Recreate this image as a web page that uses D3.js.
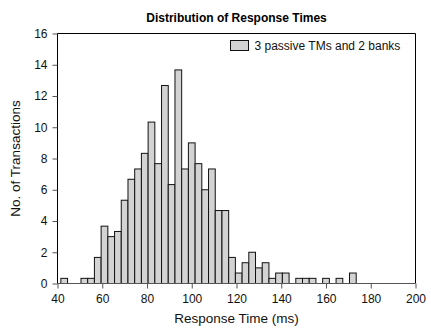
<!DOCTYPE html>
<html>
<head>
<meta charset="utf-8">
<script src="https://cdn.jsdelivr.net/npm/d3@7.9.0/dist/d3.min.js"></script>
<style>
  body { margin: 0; background: #fff; }
  svg { display: block; font-family: "Liberation Sans", Arial, sans-serif; }
</style>
</head>
<body>
<svg id="chart" width="431" height="329"></svg>
<script>
// left edge of each 3 ms bin
const binStarts = [
  41.5, 44.5, 47.5, 50.5, 53.5, 56.5, 59.5, 62.5, 65.5, 68.5, 71.5,
  74.5, 77.5, 80.5, 83.5, 86.5, 89.5, 92.5, 95.5, 98.5, 101.5, 104.5,
  107.5, 110.5, 113.5, 116.5, 119.5, 122.5, 125.5, 128.5, 131.5, 134.5,
  137.5, 140.5, 143.5, 146.5, 149.5, 152.5, 155.5, 158.5, 161.5, 164.5,
  167.5, 170.5,
];
const binWidth = 3;

const transactions = [
  0.33, 0, 0, 0.33, 0.33, 1.67, 3.67, 3, 3.33, 5.33, 6.67,
  7.33, 8.33, 10.33, 7.67, 12.67, 6.33, 13.67, 7.33, 9, 7.67, 6,
  7.33, 4.67, 4.67, 1.67, 0.67, 1.33, 2, 1, 1.33, 0.33,
  0.67, 0.67, 0, 0.33, 0.33, 0.33, 0, 0.33, 0, 0.33,
  0, 0.67,
];

const xTicks = [40, 60, 80, 100, 120, 140, 160, 180, 200];
const yTicks = [0, 2, 4, 6, 8, 10, 12, 14, 16];

const seriesLabel = '3 passive TMs and 2 banks';

const margin = { left: 57.5, right: 15.5, top: 33.5, bottom: 45.5 };
const width = 431;
const height = 329;

const x = d3.scaleLinear()
  .domain([40, 200])
  .range([margin.left, width - margin.right]);

const y = d3.scaleLinear()
  .domain([0, 16])
  .range([height - margin.bottom, margin.top]);

const svg = d3.select('#chart');

const bins = binStarts.map((start, i) => ({ start, value: transactions[i] }));

// bars
svg.append('g')
  .selectAll('rect')
  .data(bins)
  .join('rect')
  .attr('x', (d) => x(d.start))
  .attr('y', (d) => y(d.value))
  .attr('width', (d) => x(d.start + binWidth) - x(d.start))
  .attr('height', (d) => y(0) - y(d.value))
  .attr('fill', '#d3d3d3')
  .attr('stroke', '#111')
  .attr('stroke-width', 1);

// frame
svg.append('path')
  .attr('d', `M${x(40)},${y(0)}V${y(16)}H${x(200)}V${y(0)}`)
  .attr('fill', 'none')
  .attr('stroke', '#000');

svg.append('line')
  .attr('x1', x(40))
  .attr('x2', x(200))
  .attr('y1', y(0))
  .attr('y2', y(0))
  .attr('stroke', '#555');

// axes
const xAxis = svg.append('g')
  .attr('transform', `translate(0,${y(0)})`)
  .call(d3.axisBottom(x).tickValues(xTicks).tickSize(5).tickPadding(6));

const yAxis = svg.append('g')
  .attr('transform', `translate(${x(40)},0)`)
  .call(d3.axisLeft(y).tickValues(yTicks).tickSize(5).tickPadding(5));

[xAxis, yAxis].forEach((g) => {
  g.select('.domain').remove();
  g.selectAll('line').attr('stroke', '#555');
  g.selectAll('text')
    .attr('fill', '#111')
    .style('font-size', '12px')
    .style('font-family', '"Liberation Sans", Arial, sans-serif');
});

// titles
svg.append('text')
  .attr('x', (x(40) + x(200)) / 2)
  .attr('y', 22)
  .attr('text-anchor', 'middle')
  .style('font-size', '12px')
  .style('font-weight', 'bold')
  .attr('fill', '#000')
  .text('Distribution of Response Times');

svg.append('text')
  .attr('x', (x(40) + x(200)) / 2)
  .attr('y', 323)
  .attr('text-anchor', 'middle')
  .style('font-size', '13.5px')
  .attr('fill', '#111')
  .text('Response Time (ms)');

svg.append('text')
  .attr('transform', `translate(20,${(y(0) + y(16)) / 2}) rotate(-90)`)
  .attr('text-anchor', 'middle')
  .style('font-size', '13.5px')
  .attr('fill', '#111')
  .text('No. of Transactions');

// legend
const legend = svg.append('g').attr('transform', 'translate(230.5,40.5)');
legend.append('rect')
  .attr('width', 18)
  .attr('height', 10)
  .attr('fill', '#d3d3d3')
  .attr('stroke', '#111');
legend.append('text')
  .attr('x', 24)
  .attr('y', 9.5)
  .style('font-size', '12px')
  .attr('fill', '#111')
  .text(seriesLabel);
</script>
</body>
</html>
